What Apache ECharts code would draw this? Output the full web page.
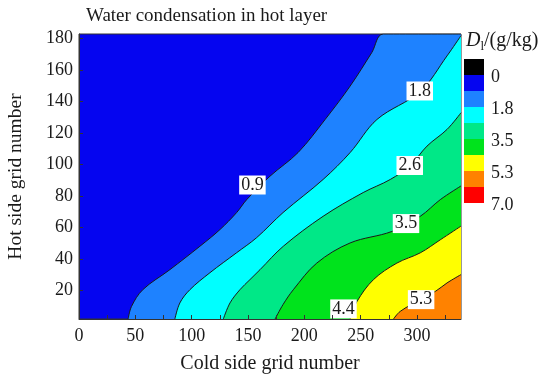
<!DOCTYPE html>
<html>
<head>
<meta charset="utf-8">
<script src="https://cdn.jsdelivr.net/npm/echarts@6/dist/echarts.min.js"></script>
<style>
  html, body { margin: 0; padding: 0; background: #fff; }
  #chart { width: 548px; height: 377px; }
</style>
</head>
<body>
<div id="chart"></div>
<script>
// Axis extents (grid numbers)
const xMin = 0, xMax = 339;
const yMin = 2, yMax = 183;
const xTickLabels = [0, 50, 100, 150, 200, 250, 300];
const xTicks = [0, 25, 50, 75, 100, 125, 150, 175, 200, 225, 250, 275, 300, 325];
const yTickLabels = [20, 40, 60, 80, 100, 120, 140, 160, 180];

// Contour levels of D_l (g/kg) and the colour band above each level
const legendLevels = [0, 0.9, 1.8, 2.6, 3.5, 4.4, 5.3, 6.2, 7.0];
const legendLabels = ['0', '1.8', '3.5', '5.3', '7.0'];
const bandColors = ['#000000', '#0505f0', '#1e82ff', '#00ffff', '#00e887', '#00e31c', '#ffff00', '#ff8200', '#ff0000'];

const contourLevels = [0.9, 1.8, 2.6, 3.5, 4.4, 5.3];

// Contour lines: [cold side grid number, hot side grid number]
const contour09 = [[43.6, 2], [46.6, 10], [56.6, 20.6], [80.6, 33.3], [107.3, 48.2], [125.1, 58.8], [139.9, 69.6], [148.8, 77.8], [169.5, 92.7], [194.4, 107.7], [218.4, 128.7], [240.6, 149.9], [259.9, 171.3], [270, 183]];
const contour18 = [[85.1, 2], [89.5, 12.2], [98.4, 20.6], [116.2, 31.4], [139.9, 44.1], [157.7, 53.7], [181.1, 69.6], [216.6, 90.6], [240.6, 107.7], [264.4, 128.7], [302.8, 146.5], [326.6, 169.1], [339, 182]];
const contour26 = [[128.1, 2], [134, 12.2], [142.8, 20.6], [151.7, 27], [160.6, 33.3], [181.3, 48.2], [216.6, 67.2], [252.2, 82.3], [276.2, 90.6], [294, 99.5], [308.8, 111.8], [326.6, 122.4], [339, 133]];
const contour35 = [[174, 2], [181, 11.1], [190.2, 20.6], [211, 37.5], [240.6, 50.3], [277.7, 57.6], [302.8, 67.2], [320.6, 77.8], [339, 86.5]];
const contour44 = [[240.6, 2], [246.6, 13], [261.3, 27], [282.1, 37.5], [302.8, 44], [320.6, 52.3], [339, 61]];
const contour53 = [[279.1, 2], [285, 6.8], [302.8, 14.3], [316.2, 19.5], [326.6, 24.9], [339, 30.2]];
const contours = [contour09, contour18, contour26, contour35, contour44, contour53];

// Where each contour's inline label sits
const labelAnchors = [[153.9, 87.1], [302.4, 146.8], [293.5, 99.5], [290.2, 62.6], [234.7, 8.4], [303.6, 14.3]];

const serif = '"Liberation Serif", "Times New Roman", serif';
const ink = '#1a1a1a';

// Each contour fills everything below/right of it with the band colour above its level
const fillSeries = contours.map((pts, i) => {
  const data = pts.slice();
  const last = data[data.length - 1];
  if (last[0] < xMax) data.push([xMax, yMax]);
  return {
    type: 'line',
    data: data,
    smooth: 0.35,
    showSymbol: false,
    symbol: 'none',
    silent: true,
    z: 2 + i,
    lineStyle: { color: ink, width: 1 },
    areaStyle: { color: bandColors[legendLevels.indexOf(contourLevels[i]) + 1], opacity: 1, origin: 'start' }
  };
});

const labelSeries = {
  type: 'scatter',
  symbolSize: 0,
  silent: true,
  z: 20,
  itemStyle: { opacity: 1 },
  data: contourLevels.map((lv, i) => ({ value: labelAnchors[i], level: lv })),
  label: {
    show: true,
    position: 'inside',
    formatter: p => p.data.level.toFixed(1),
    fontFamily: serif,
    fontSize: 18,
    color: ink,
    backgroundColor: '#ffffff',
    opacity: 1,
    padding: [1, 2, 0, 2]
  }
};

// Colour bar legend
const barX = 464, barTop = 59, barW = 20, barH = 16;
const graphics = bandColors.map((c, i) => ({
  type: 'rect',
  shape: { x: barX, y: barTop + i * barH, width: barW, height: barH },
  style: { fill: c }
}));
legendLabels.forEach((t, i) => {
  graphics.push({
    type: 'text',
    x: barX + 27,
    y: barTop + (2 * i + 1) * barH + 2,
    style: { text: t, fontFamily: serif, fontSize: 18, fill: ink, verticalAlign: 'middle', align: 'left' }
  });
});
graphics.push({
  type: 'text',
  x: 466,
  y: 41,
  style: {
    text: '{i|D}{s|l}{n|/(g/kg)}',
    verticalAlign: 'middle',
    rich: {
      i: { fontFamily: serif, fontStyle: 'italic', fontSize: 20, fill: ink },
      s: { fontFamily: serif, fontSize: 13, fill: ink, padding: [12, 0, 0, 0] },
      n: { fontFamily: serif, fontSize: 20, fill: ink }
    }
  }
});

const chart = echarts.init(document.getElementById('chart'), null, { renderer: 'canvas' });
chart.setOption({
  animation: false,
  backgroundColor: '#ffffff',
  title: {
    text: 'Water condensation in hot layer',
    left: 81,
    top: 2,
    textStyle: { fontFamily: serif, fontSize: 19, fontWeight: 'normal', color: ink }
  },
  grid: {
    left: 79, right: 87, top: 34, bottom: 58,
    outerBoundsMode: 'none',
    containLabel: false,
    show: true,
    backgroundColor: bandColors[1],
    borderColor: '#333',
    borderWidth: 1,
    z: 0
  },
  xAxis: {
    type: 'value',
    min: xMin, max: xMax,
    name: 'Cold side grid number',
    nameLocation: 'middle',
    nameGap: 35,
    nameTextStyle: { fontFamily: serif, fontSize: 20, color: ink, verticalAlign: 'top' },
    axisLine: { show: true, lineStyle: { color: '#333', width: 1 } },
    axisTick: { show: true, inside: true, length: 4, customValues: xTicks, lineStyle: { color: '#333' } },
    axisLabel: { customValues: xTickLabels, margin: 8, fontFamily: serif, fontSize: 18, color: ink },
    splitLine: { show: false },
    z: 30
  },
  yAxis: {
    type: 'value',
    min: yMin, max: yMax,
    name: 'Hot side grid number',
    nameLocation: 'middle',
    nameRotate: 90,
    nameGap: 53,
    nameTextStyle: { fontFamily: serif, fontSize: 19.5, color: ink },
    axisLine: { show: true, lineStyle: { color: '#333', width: 1 } },
    axisTick: { show: true, inside: true, length: 4, customValues: yTickLabels, lineStyle: { color: '#333' } },
    axisLabel: { customValues: yTickLabels, margin: 6, fontFamily: serif, fontSize: 18, color: ink },
    splitLine: { show: false },
    z: 30
  },
  series: fillSeries.concat([labelSeries]),
  graphic: { elements: graphics }
});
</script>
</body>
</html>
